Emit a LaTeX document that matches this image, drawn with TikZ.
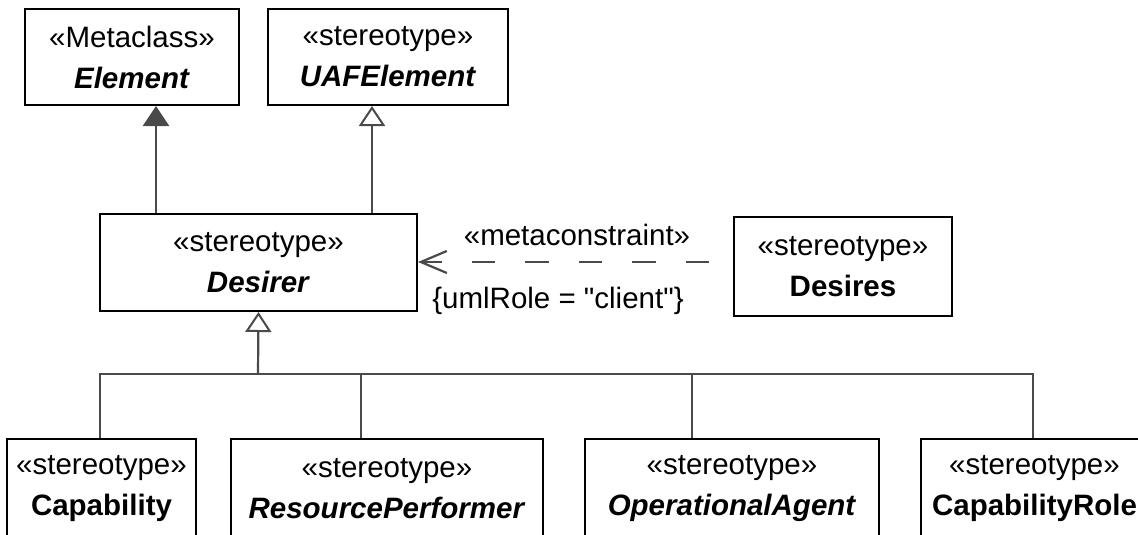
\documentclass[tikz,border=0pt]{standalone}
\usepackage{fontspec}
\setmainfont{Liberation Sans}
\usetikzlibrary{arrows.meta}
\definecolor{conncol}{HTML}{4A4A4A}
\tikzset{
  umlbox/.style={draw=black, line width=2pt, fill=white, inner sep=0pt, align=center,
    font=\fontsize{29.5}{41}\selectfont},
  conn/.style={draw=conncol, line width=2.2pt},
  genopen/.style={conn, -{Triangle[open, length=20pt, width=26pt, line width=2pt]}},
  genfilled/.style={conn, -{Triangle[length=20pt, width=26pt, fill=conncol]}},
  dep/.style={conn, dash pattern=on 23.5pt off 30pt, dash phase=29.5pt,
    -{Straight Barb[length=26pt, width=22pt, line width=2.2pt]}},
  lbl/.style={font=\fontsize{29.5}{34}\selectfont, inner sep=0pt, anchor=base}
}
\begin{document}
\begin{tikzpicture}[x=1pt, y=-1pt]
\useasboundingbox (0,0) rectangle (1138,535);
\clip (0,0) rectangle (1138,535);
\fill[white] (0,0) rectangle (1138,535);

% top row
\node[umlbox, minimum width=214pt, minimum height=96pt] (Element) at (132,57)
  {«Metaclass»\\\textbf{\textit{Element}}};
\node[umlbox, minimum width=240pt, minimum height=96pt] (UAFElement) at (388,57)
  {«stereotype»\\\textbf{\textit{UAFElement}}};

% middle row
\node[umlbox, minimum width=317pt, minimum height=97pt] (Desirer) at (258.5,262.5)
  {«stereotype»\\\textbf{\textit{Desirer}}};
\node[umlbox, minimum width=218pt, minimum height=99pt] (Desires) at (843,266.5)
  {«stereotype»\\\textbf{Desires}};

% bottom row
\node[umlbox, minimum width=189pt, minimum height=99pt] (Capability) at (101.5,488.5)
  {«stereotype»\\\textbf{Capability}};
\node[umlbox, minimum width=312pt, minimum height=99pt] (ResourcePerformer) at (387,488.5)
  {«stereotype»\\\textbf{\textit{ResourcePerformer}}};
\node[umlbox, minimum width=294pt, minimum height=99pt] (OperationalAgent) at (732,488.5)
  {«stereotype»\\\textbf{\textit{OperationalAgent}}};
\node[umlbox, minimum width=227pt, minimum height=99pt] (CapabilityRole) at (1034.5,488.5)
  {«stereotype»\\\textbf{CapabilityRole}};

% helper coordinates
\coordinate (a1) at (156,0);
\coordinate (a2) at (372,0);
\coordinate (bus) at (258,374);
\coordinate (c1) at (100,0);
\coordinate (c2) at (361,0);
\coordinate (c3) at (692,0);
\coordinate (c4) at (1033,0);

% generalizations to top row
\draw[genfilled] (Desirer.north -| a1) -- (Element.south -| a1);
\draw[genopen] (Desirer.north -| a2) -- (UAFElement.south -| a2);

% generalization tree
\draw[conn] (Capability.north -| c1) |- (bus);
\draw[conn] (ResourcePerformer.north -| c2) |- (bus);
\draw[conn] (OperationalAgent.north -| c3) |- (bus);
\draw[conn] (CapabilityRole.north -| c4) |- (bus);
\draw[genopen] (bus) -- (Desirer.south);

% dependency
\draw[dep] (Desires.west |- 0,262) -- (Desirer.east |- 0,262);
\node[lbl] (mc) at (577,245) {«metaconstraint»};
\node[lbl] (role) at (558,308) {\addfontfeatures{Ligatures=TeXOff}\{umlRole = "client"\}};
\end{tikzpicture}
\end{document}
